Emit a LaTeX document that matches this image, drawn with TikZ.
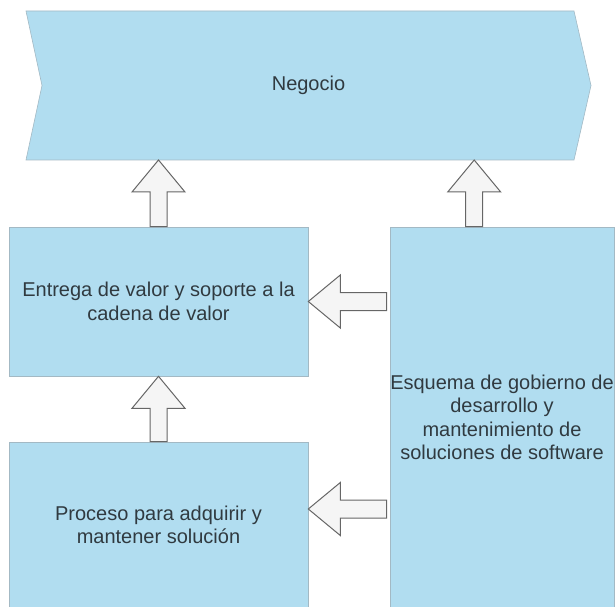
\documentclass[tikz,border=0pt]{standalone}
\usepackage{fontspec}
\setmainfont{Liberation Sans}
\usetikzlibrary{calc}
\definecolor{boxblue}{HTML}{B1DDF0}
\definecolor{boxline}{HTML}{A3B9C4}
\definecolor{arrfill}{HTML}{F5F5F5}
\definecolor{arrline}{HTML}{666666}
\definecolor{txt}{HTML}{303A40}

% block arrows: #1 tail, #2 point on the tip line
\newcommand{\UpBlock}[2]{%
  \path (#1) coordinate (t0) (#1 |- #2) coordinate (t1);
  \draw[blockarrow] ($(t0)+(-8.5,0)$) -- ($(t1)+(-8.5,-32)$) -- ($(t1)+(-26.5,-32)$)
    -- (t1) -- ($(t1)+(26.5,-32)$) -- ($(t1)+(8.5,-32)$) -- ($(t0)+(8.5,0)$) -- cycle;}
\newcommand{\LeftBlock}[2]{%
  \path (#1) coordinate (t0) (#2 |- #1) coordinate (t1);
  \draw[blockarrow] ($(t0)+(0,9)$) -- ($(t1)+(32,9)$) -- ($(t1)+(32,26.5)$)
    -- (t1) -- ($(t1)+(32,-26.5)$) -- ($(t1)+(32,-9)$) -- ($(t0)+(0,-9)$) -- cycle;}

\begin{document}
\begin{tikzpicture}[x=1pt, y=1pt]
  \tikzset{box/.style={rectangle, fill=boxblue, draw=boxline, line width=0.6pt,
      text=txt, align=center, inner sep=0pt,
      font=\fontsize{20}{23.5}\selectfont}}
  \tikzset{blockarrow/.style={fill=arrfill, draw=arrline, line width=1pt, line join=miter}}

  \useasboundingbox (0,0) rectangle (615,606);
  \clip (0,0) rectangle (615,606);

  % Negocio chevron
  \draw[fill=boxblue, draw=boxline, line width=0.6pt]
    (26,595) -- (574,595) -- (591,520.5) -- (574,446) -- (26,446) -- (42,520.5) -- cycle;
  \node[text=txt, font=\fontsize{20}{23.5}\selectfont] (neg) at (308.5,520.5) {Negocio};
  \coordinate (negb) at (26,446);

  \node[box, minimum width=299, minimum height=149] (ent) at (158.5,304.5)
    {Entrega de valor y soporte a la\\cadena de valor};
  \node[box, minimum width=299, minimum height=166] (pro) at (158.5,81)
    {Proceso para adquirir y\\mantener soluci\'on};
  \node[box, minimum width=224, minimum height=381] (esq) at (502,188.5)
    {Esquema de gobierno de\\desarrollo y\\mantenimiento de\\soluciones de software};

  \coordinate (esqtop) at ($(esq.north west)+(84.5,0)$);
  \coordinate (entin) at ($(esq.west |- ent.east)+(-3,0)$);
  \coordinate (proin) at ($(esq.west |- pro.east)+(-3,16)$);

  \UpBlock{ent.north}{negb}
  \UpBlock{esqtop}{negb}
  \UpBlock{pro.north}{ent.south}
  \LeftBlock{entin}{ent.east}
  \LeftBlock{proin}{pro.east}
\end{tikzpicture}
\end{document}
